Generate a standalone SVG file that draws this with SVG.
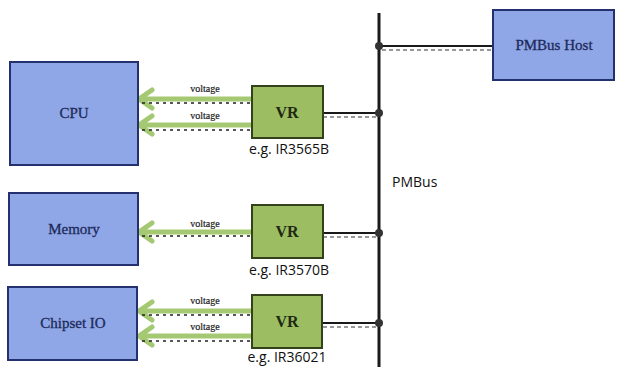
<svg xmlns="http://www.w3.org/2000/svg" width="617" height="367" viewBox="0 0 617 367">
<style>
.blue{fill:#8fa7e6;stroke:#25306e;stroke-width:2}
.vr{fill:#9dbd62;stroke:#34421c;stroke-width:2}
.lbl{font-family:"Liberation Serif",serif;fill:#1d2a5c;font-size:15px;text-anchor:middle;stroke:#1d2a5c;stroke-width:0.3}
.vrt{font-family:"Liberation Serif",serif;fill:#1d2a12;font-size:16px;font-weight:bold;text-anchor:middle}
.v{font-family:"Liberation Serif",serif;fill:#222;font-size:10px;text-anchor:middle;stroke:#222;stroke-width:0.2}
.eg{font-family:"Open Sans","Liberation Sans",sans-serif;fill:#111;font-size:14px;text-anchor:middle}
.arr{fill:none;stroke:#a5c972;stroke-width:5;stroke-linecap:round;stroke-linejoin:round}
.dot{fill:none;stroke:#222;stroke-width:1.3;stroke-dasharray:3 4}
.bus{fill:none;stroke:#1a1a1a;stroke-width:3}
.wire{fill:none;stroke:#1a1a1a;stroke-width:2.2}
.dash{fill:none;stroke:#333;stroke-width:1.2;stroke-dasharray:4 3}
.jn{fill:#333}
</style>
<rect width="617" height="367" fill="#fff"/>
<g id="connectors">
<line class="bus" x1="379" y1="13" x2="379" y2="367"/>
<line class="wire" x1="379" y1="46" x2="493" y2="46"/>
<line class="dash" x1="382" y1="50" x2="493" y2="50"/>
<line class="wire" x1="323" y1="113" x2="379" y2="113"/>
<line class="dash" x1="323" y1="117" x2="377" y2="117"/>
<line class="wire" x1="323" y1="233" x2="379" y2="233"/>
<line class="dash" x1="323" y1="237" x2="377" y2="237"/>
<line class="wire" x1="323" y1="323" x2="379" y2="323"/>
<line class="dash" x1="323" y1="327" x2="377" y2="327"/>
<circle class="jn" cx="379" cy="46" r="4"/>
<circle class="jn" cx="379" cy="113" r="4"/>
<circle class="jn" cx="379" cy="233" r="4"/>
<circle class="jn" cx="379" cy="323" r="4"/>
<path class="arr" d="M252 99H139M152 90L139 99L152 108"/>
<line class="dot" x1="142" y1="103" x2="252" y2="103"/>
<path class="arr" d="M252 125H139M152 116L139 125L152 134"/>
<line class="dot" x1="142" y1="130" x2="252" y2="130"/>
<path class="arr" d="M252 232H139M152 223L139 232L152 241"/>
<line class="dot" x1="142" y1="236" x2="252" y2="236"/>
<path class="arr" d="M252 311H139M152 302L139 311L152 320"/>
<line class="dot" x1="142" y1="315" x2="252" y2="315"/>
<path class="arr" d="M252 336H139M152 327L139 336L152 345"/>
<line class="dot" x1="142" y1="341" x2="252" y2="341"/>
<text class="v" x="205" y="92">voltage</text>
<text class="v" x="205" y="119">voltage</text>
<text class="v" x="205" y="227">voltage</text>
<text class="v" x="205" y="304">voltage</text>
<text class="v" x="205" y="330">voltage</text>
<text x="392" y="187" font-family="'Open Sans','Liberation Sans',sans-serif" font-size="14" fill="#111">PMBus</text>
</g>
<g id="host"><rect class="blue" x="493" y="10" width="121" height="70"/><text class="lbl" x="554" y="50">PMBus Host</text></g>
<g id="cpu"><rect class="blue" x="10" y="62" width="128" height="103"/><text class="lbl" x="74" y="118">CPU</text></g>
<g id="memory"><rect class="blue" x="9" y="193" width="129" height="72"/><text class="lbl" x="74" y="234">Memory</text></g>
<g id="chipset"><rect class="blue" x="8" y="287" width="129" height="73"/><text class="lbl" x="73" y="328">Chipset IO</text></g>
<g id="vr1"><rect class="vr" x="252" y="86" width="71" height="52"/><text class="vrt" x="287" y="118">VR</text><text class="eg" x="289" y="154">e.g. IR3565B</text></g>
<g id="vr2"><rect class="vr" x="252" y="205" width="71" height="53"/><text class="vrt" x="287" y="237">VR</text><text class="eg" x="289" y="275">e.g. IR3570B</text></g>
<g id="vr3"><rect class="vr" x="252" y="295" width="70" height="53"/><text class="vrt" x="287" y="327">VR</text><text class="eg" x="287" y="362" font-size="13.5">e.g. IR36021</text></g>
</svg>
